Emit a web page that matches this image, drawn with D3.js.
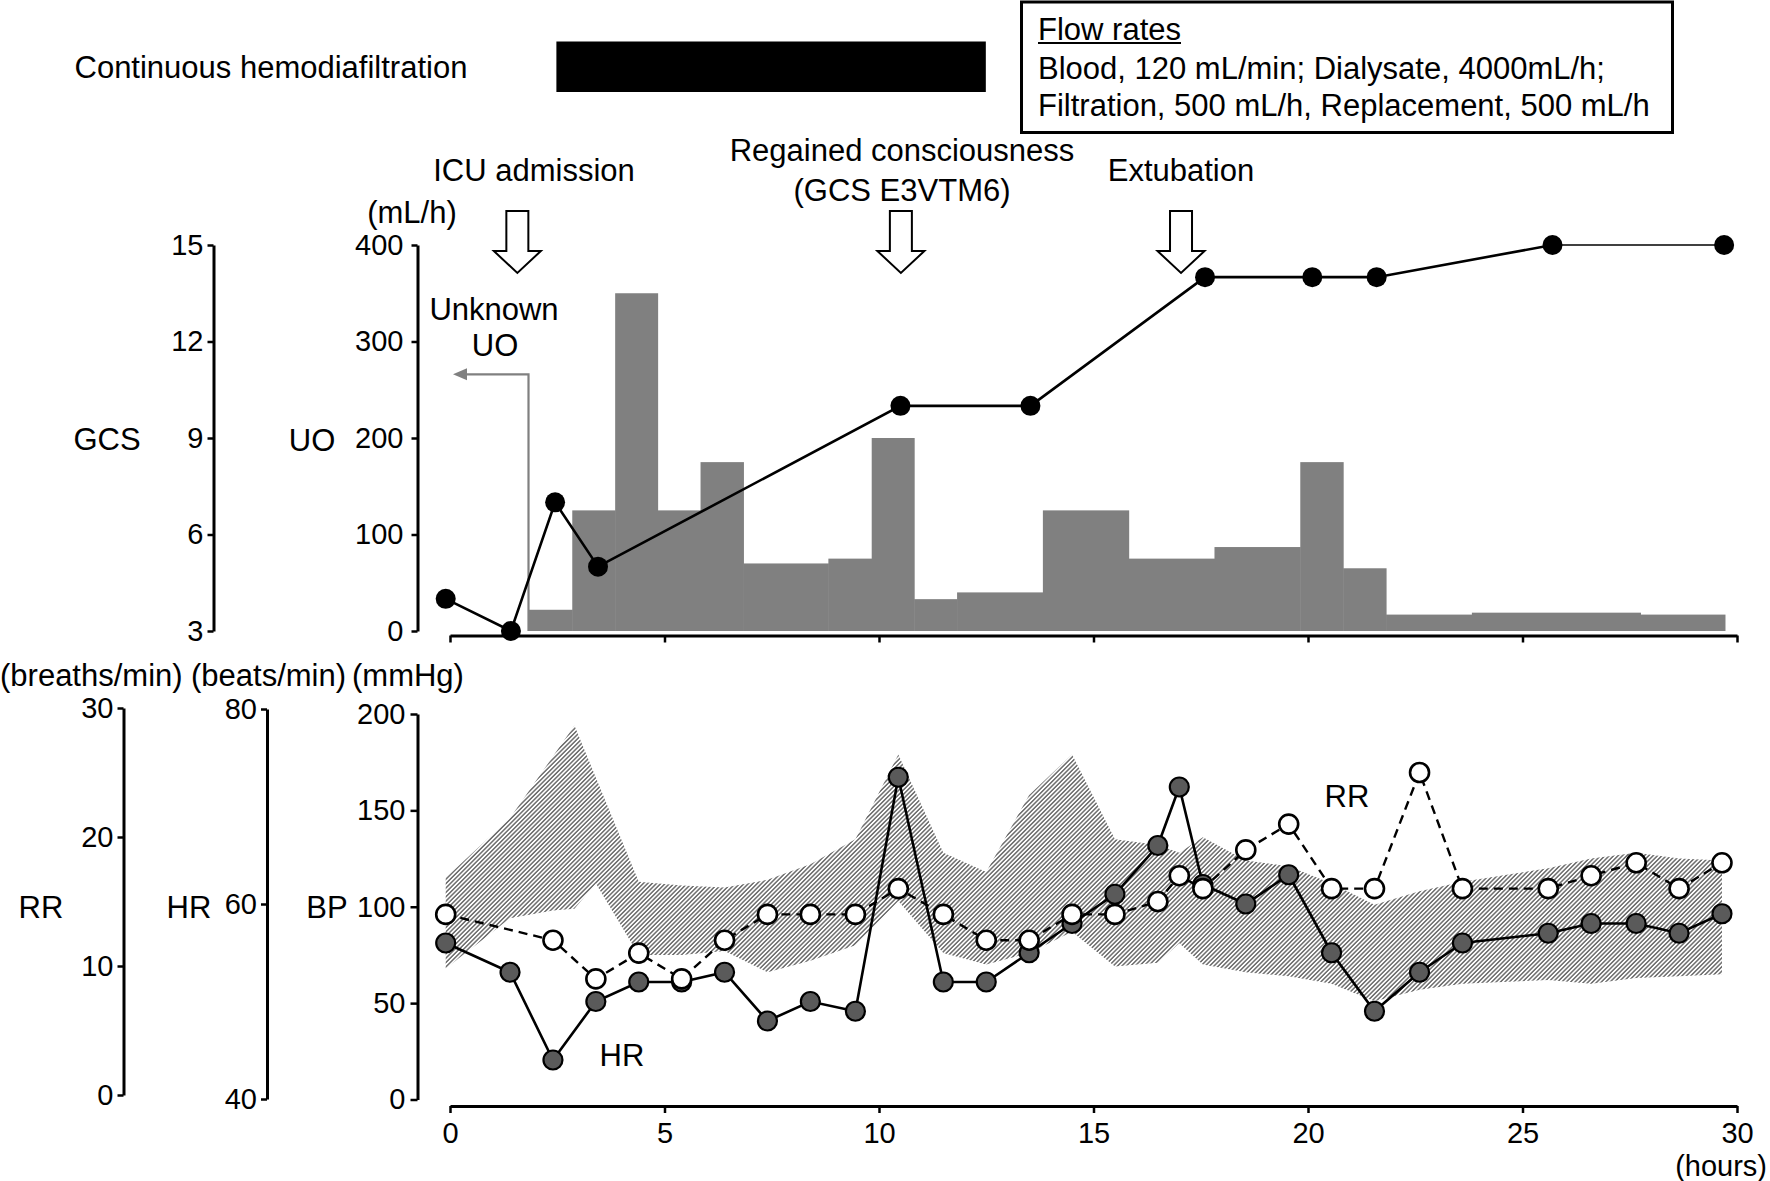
<!DOCTYPE html>
<html><head><meta charset="utf-8">
<script src="https://cdn.jsdelivr.net/npm/d3@7"></script>
<style>
html,body{margin:0;padding:0;background:#fff;}
svg text{font-family:"Liberation Sans",Arial,sans-serif;fill:#000;}
</style></head><body>
<svg id="chart" width="1770" height="1181"></svg>
<script>
// ---------- data ----------
const gcsTimes  = [-0.1, 1.42, 2.45, 3.45, 10.5, 13.53, 17.6, 20.1, 21.6, 25.7, 29.7];
const gcsValues = [4, 3, 7, 5, 10, 10, 14, 14, 14, 15, 15];

const uoEdges  = [1.83, 2.85, 3.85, 4.84, 5.84, 6.84, 8.82, 9.83, 10.82, 11.82, 13.82, 15.82, 17.82, 19.82, 20.82, 21.82, 23.82, 27.75, 29.72];
const uoValues = [22, 125, 350, 125, 175, 70, 75, 200, 33, 40, 125, 75, 87, 175, 65, 17, 19, 17];

const vitalTimes = [-0.1, 1.4, 2.4, 3.4, 4.4, 5.4, 6.4, 7.4, 8.4, 9.45, 10.45, 11.5, 12.5, 13.5, 14.5, 15.5, 16.5, 17.0, 17.55, 18.55, 19.55, 20.55, 21.55, 22.6, 23.6, 25.6, 26.6, 27.65, 28.65, 29.65];
const hrValues = [56, 53, 44, 50, 52, 52, 53, 48, 50, 49, 73, 52, 52, 55, 58, 61, 66, 72, 62, 60, 63, 55, 49, 53, 56, 57, 58, 58, 57, 59];
const rrValues = [14, null, 12, 9, 11, 9, 12, 14, 14, 14, 16, 14, 12, 12, 14, 14, 15, 17, 16, 19, 21, 16, 16, 25, 16, 16, 17, 18, 16, 18];

const bpUpperTimes  = [-0.1, 1.4, 2.9, 4.4, 5.4, 6.4, 7.4, 8.4, 9.45, 10.45, 11.5, 12.5, 13.5, 14.5, 15.5, 16.5, 17.0, 17.55, 18.55, 19.55, 20.55, 21.55, 22.6, 23.6, 25.6, 26.6, 27.65, 28.65, 29.65];
const bpUpperValues = [115, 146, 194, 113, 111, 110, 114, 122, 135, 179, 128, 118, 158, 179, 135, 132, 128, 136, 124, 121, 112, 101, 108, 113, 120, 125, 128, 125, 124];
const bpLowerTimes  = [-0.1, 1.4, 2.4, 2.9, 3.4, 4.4, 5.4, 6.4, 7.4, 8.4, 9.45, 10.45, 11.5, 12.5, 13.5, 14.5, 15.5, 16.5, 17.0, 17.55, 18.55, 19.55, 20.55, 21.55, 22.6, 23.6, 25.6, 26.6, 27.65, 28.65, 29.65];
const bpLowerValues = [68, 94, 98, 99, 112, 75, 75, 77, 66, 72, 80, 103, 76, 70, 76, 87, 69, 71, 81, 70, 66, 64, 60, 51, 57, 60, 62, 60, 63, 64, 65];

const chdfPeriod = [2.48, 12.49];
const eventTimes = [1.57, 10.51, 17.04];
const eventLabels = [["ICU admission"], ["Regained consciousness", "(GCS E3VTM6)"], ["Extubation"]];
const unknownUOLevel = 266;

const gcsTicks = [3, 6, 9, 12, 15];
const uoTicks = [0, 100, 200, 300, 400];
const rrTicks = [0, 10, 20, 30];
const hrTicks = [40, 60, 80];
const bpTicks = [0, 50, 100, 150, 200];
const timeTicks = [0, 5, 10, 15, 20, 25, 30];

// ---------- scales ----------
const svg = d3.select("#chart");
const x = d3.scaleLinear().domain([0, 30]).range([450, 1737]);
const yGCS = d3.scaleLinear().domain([3, 15]).range([631, 245]);
const yUO = d3.scaleLinear().domain([0, 400]).range([631, 245]);
const yRR = d3.scaleLinear().domain([0, 30]).range([1095, 708]);
const yHR = d3.scaleLinear().domain([40, 80]).range([1099, 709]);
const yBP = d3.scaleLinear().domain([0, 200]).range([1099.5, 714]);

const TICKFS = 29, LABFS = 31;

// defs: hatch
const defs = svg.append("defs");
const pat = defs.append("pattern").attr("id", "hatch").attr("patternUnits", "userSpaceOnUse")
  .attr("width", 3.1).attr("height", 3.1).attr("patternTransform", "rotate(45)");
pat.append("rect").attr("width", 3.1).attr("height", 3.1).attr("fill", "#fff");
pat.append("line").attr("x1", 0.8).attr("y1", 0).attr("x2", 0.8).attr("y2", 3.1)
  .attr("stroke", "#6e6e6e").attr("stroke-width", 1.5);

function styleAxis(g, fs) {
  g.select(".domain").attr("stroke", "#000").attr("stroke-width", 3);
  g.selectAll(".tick line").attr("stroke", "#000").attr("stroke-width", 2.5);
  g.selectAll(".tick text").attr("font-size", fs).attr("font-family", '"Liberation Sans",Arial,sans-serif').attr("fill", "#000");
}
function text(t, px, py, anchor, fs) {
  return svg.append("text").attr("x", px).attr("y", py).attr("text-anchor", anchor || "middle")
    .attr("dominant-baseline", "central").attr("font-size", fs || LABFS).text(t);
}

// ---------- header ----------
text("Continuous hemodiafiltration", 74.5, 67, "start");
svg.append("rect").attr("x", x(chdfPeriod[0])).attr("y", 41.5)
  .attr("width", x(chdfPeriod[1]) - x(chdfPeriod[0])).attr("height", 50.5).attr("fill", "#000");
svg.append("rect").attr("x", 1021.5).attr("y", 2).attr("width", 651).attr("height", 130.5)
  .attr("fill", "none").attr("stroke", "#000").attr("stroke-width", 3);
text("Flow rates", 1038, 29, "start");
svg.append("line").attr("x1", 1038).attr("x2", 1181).attr("y1", 43).attr("y2", 43).attr("stroke", "#000").attr("stroke-width", 2);
text("Blood, 120 mL/min; Dialysate, 4000mL/h;", 1038, 68, "start");
text("Filtration, 500 mL/h, Replacement, 500 mL/h", 1038, 105, "start");

// event labels and arrows
const labelPos = [[534, [170]], [902, [150, 190]], [1181, [170]]];
eventLabels.forEach((lines, i) => {
  lines.forEach((l, j) => text(l, labelPos[i][0], labelPos[i][1][j]));
});
eventTimes.forEach(t => {
  const cx = x(t), sw = 11, hw = 23.5, y0 = 211, yh = 251, yt = 273;
  const p = `M${cx - sw},${y0}L${cx + sw},${y0}L${cx + sw},${yh}L${cx + hw},${yh}L${cx},${yt}L${cx - hw},${yh}L${cx - sw},${yh}Z`;
  svg.append("path").attr("d", p).attr("fill", "#fff").attr("stroke", "#000").attr("stroke-width", 2);
});

// ---------- upper panel ----------
text("(mL/h)", 412, 212);
text("GCS", 107, 439);
text("UO", 312, 440);

const gAxGCS = svg.append("g").attr("transform", "translate(213.5,0)")
  .call(d3.axisLeft(yGCS).tickValues(gcsTicks).tickSize(6).tickSizeOuter(0).tickPadding(4));
styleAxis(gAxGCS, TICKFS);
const gAxUO = svg.append("g").attr("transform", "translate(417.5,0)")
  .call(d3.axisLeft(yUO).tickValues(uoTicks).tickSize(6).tickSizeOuter(0).tickPadding(8));
styleAxis(gAxUO, TICKFS);
const gAxT1 = svg.append("g").attr("transform", "translate(0,635.5)")
  .call(d3.axisBottom(x).tickValues(timeTicks).tickSize(7).tickSizeOuter(0).tickFormat(""));
styleAxis(gAxT1, TICKFS);

// UO bars
svg.append("g").selectAll("rect").data(uoValues).join("rect")
  .attr("x", (d, i) => x(uoEdges[i]))
  .attr("width", (d, i) => x(uoEdges[i + 1]) - x(uoEdges[i]) + 0.5)
  .attr("y", d => yUO(d)).attr("height", d => yUO(0) - yUO(d))
  .attr("fill", "#808080");

// unknown UO annotation
text("Unknown", 494, 309);
text("UO", 495, 345);
{
  const vx = x(uoEdges[0]), ty = yUO(unknownUOLevel), tipx = x(0) + 3;
  svg.append("path").attr("d", `M${vx},${yUO(0)}L${vx},${ty}L${tipx + 12},${ty}`)
    .attr("fill", "none").attr("stroke", "#808080").attr("stroke-width", 2.2);
  svg.append("path").attr("d", `M${tipx},${ty}L${tipx + 14},${ty - 6}L${tipx + 14},${ty + 6}Z`).attr("fill", "#808080");
}

// GCS line
const gcsPts = gcsTimes.map((t, i) => [x(t), yGCS(gcsValues[i])]);
svg.append("path").attr("d", d3.line()(gcsPts.slice(0, gcsPts.length - 1)))
  .attr("fill", "none").attr("stroke", "#000").attr("stroke-width", 2.6);
svg.append("path").attr("d", d3.line()(gcsPts.slice(gcsPts.length - 2)))
  .attr("fill", "none").attr("stroke", "#000").attr("stroke-width", 1.6);
svg.append("g").selectAll("circle").data(gcsPts).join("circle")
  .attr("cx", d => d[0]).attr("cy", d => d[1]).attr("r", 10).attr("fill", "#000");

// ---------- lower panel ----------
text("(breaths/min)", 0, 675, "start");
text("(beats/min)", 191, 675, "start");
text("(mmHg)", 352, 675, "start");
text("RR", 41, 907);
text("HR", 189, 907);
text("BP", 327, 907);

const gAxRR = svg.append("g").attr("transform", "translate(123.5,0)")
  .call(d3.axisLeft(yRR).tickValues(rrTicks).tickSize(6).tickSizeOuter(0).tickPadding(4));
styleAxis(gAxRR, TICKFS);
const gAxHR = svg.append("g").attr("transform", "translate(267,0)")
  .call(d3.axisLeft(yHR).tickValues(hrTicks).tickSize(6).tickSizeOuter(0).tickPadding(4));
styleAxis(gAxHR, TICKFS);
const gAxBP = svg.append("g").attr("transform", "translate(417.5,0)")
  .call(d3.axisLeft(yBP).tickValues(bpTicks).tickSize(7).tickSizeOuter(0).tickPadding(5));
styleAxis(gAxBP, TICKFS);
const gAxT2 = svg.append("g").attr("transform", "translate(0,1106)")
  .call(d3.axisBottom(x).tickValues(timeTicks).tickSize(7).tickSizeOuter(0).tickPadding(9));
styleAxis(gAxT2, TICKFS);
text("(hours)", 1767, 1166, "end", 29);

// BP band
const upperPts = bpUpperTimes.map((t, i) => [x(t), yBP(bpUpperValues[i])]);
const lowerPts = bpLowerTimes.map((t, i) => [x(t), yBP(bpLowerValues[i])]).reverse();
svg.append("path").attr("d", d3.line()(upperPts.concat(lowerPts)) + "Z").attr("fill", "url(#hatch)");

// HR
const hrPts = vitalTimes.map((t, i) => [x(t), yHR(hrValues[i])]);
svg.append("path").attr("d", d3.line()(hrPts)).attr("fill", "none").attr("stroke", "#000").attr("stroke-width", 2.6);
svg.append("g").selectAll("circle").data(hrPts).join("circle")
  .attr("cx", d => d[0]).attr("cy", d => d[1]).attr("r", 9.5)
  .attr("fill", "#5a5a5a").attr("stroke", "#000").attr("stroke-width", 2.2);

// RR
const rrPts = vitalTimes.map((t, i) => [t, rrValues[i]]).filter(d => d[1] !== null).map(d => [x(d[0]), yRR(d[1])]);
svg.append("path").attr("d", d3.line()(rrPts)).attr("fill", "none").attr("stroke", "#000")
  .attr("stroke-width", 2.4).attr("stroke-dasharray", "9,6");
svg.append("g").selectAll("circle").data(rrPts).join("circle")
  .attr("cx", d => d[0]).attr("cy", d => d[1]).attr("r", 9.5)
  .attr("fill", "#fff").attr("stroke", "#000").attr("stroke-width", 2.6);

text("HR", 622, 1055);
text("RR", 1347, 796);
</script>
</body></html>
